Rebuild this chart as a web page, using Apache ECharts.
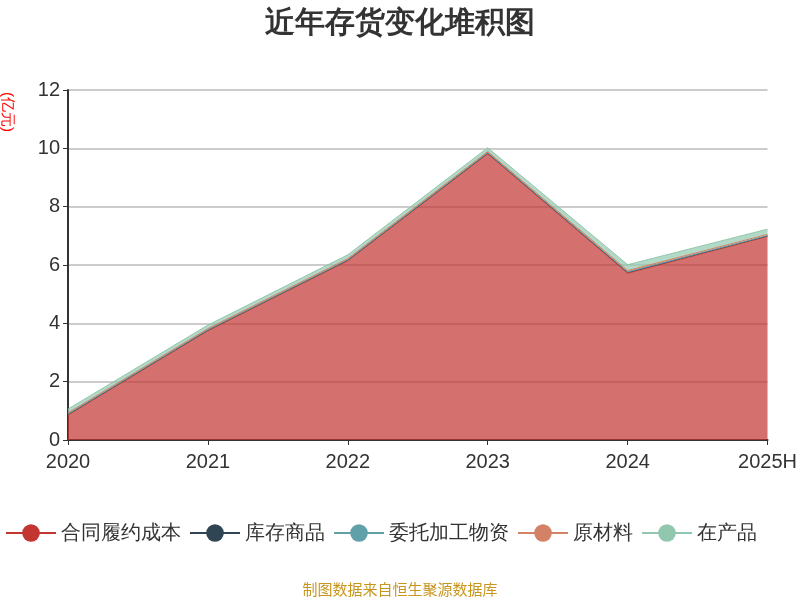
<!DOCTYPE html>
<html>
<head>
<meta charset="utf-8">
<script src="https://cdn.jsdelivr.net/npm/echarts@6/dist/echarts.min.js"></script>
<style>html,body{margin:0;padding:0;background:#fff}#main{width:800px;height:600px}</style>
</head>
<body>
<div id="main"></div>
<script>
// 报告期
const years = ["2020", "2021", "2022", "2023", "2024", "2025H"];
// 各类存货 (亿元)
const contractCost = [0.86, 3.75, 6.15, 9.82, 5.72, 6.98];
const goods = [0.02, 0.02, 0.02, 0.02, 0.03, 0.02];
const consigned = [0.01, 0.01, 0.01, 0.01, 0.01, 0.01];
const rawMaterial = [0.04, 0.04, 0.04, 0.04, 0.05, 0.04];
const inProcess = [0.13, 0.12, 0.13, 0.13, 0.2, 0.18];

const names = ["合同履约成本", "库存商品", "委托加工物资", "原材料", "在产品"];
const values = [contractCost, goods, consigned, rawMaterial, inProcess];
const colors = ["#c23531", "#2f4554", "#61a0a8", "#d48265", "#91c7ae"];

const chart = echarts.init(document.getElementById("main"));
chart.setOption({
  color: colors,
  title: {
    text: "近年存货变化堆积图",
    left: "center",
    top: 4,
    textStyle: { fontSize: 30, fontWeight: "bold", color: "#333" }
  },
  graphic: [{
    type: "text",
    left: 0,
    top: 92,
    rotation: -Math.PI / 2,
    style: { text: "(亿元)", fill: "#ff0000", font: "15px sans-serif" }
  }],
  legend: {
    type: "scroll",
    bottom: 52,
    left: 0,
    right: 0,
    itemWidth: 50,
    itemHeight: 22,
    textStyle: { fontSize: 20, color: "#333" },
    pageTextStyle: { fontSize: 20, color: "#333" },
    pageIconSize: 20,
    data: names
  },
  grid: { left: 68, right: 32, top: 90, bottom: 160 },
  xAxis: {
    type: "category",
    boundaryGap: false,
    data: years,
    axisLine: { lineStyle: { color: "#333", width: 2 } },
    axisTick: { lineStyle: { color: "#333" } },
    axisLabel: { fontSize: 20, color: "#333", margin: 12 }
  },
  yAxis: {
    type: "value",
    min: 0,
    max: 12,
    interval: 2,
    axisLine: { show: true, lineStyle: { color: "#333", width: 2 } },
    axisTick: { show: true, lineStyle: { color: "#333" } },
    axisLabel: { fontSize: 20, color: "#333" },
    splitLine: { lineStyle: { color: "#ccc", width: 2 } }
  },
  series: names.map((n, i) => ({
    name: n,
    type: "line",
    stack: "total",
    data: values[i],
    symbol: "circle",
    symbolSize: 0.1,
    showSymbol: false,
    lineStyle: { width: 1 },
    areaStyle: { opacity: 0.7 },
    z: 3
  }))
});
</script>
<div style="position:absolute;left:0;top:578px;width:800px;text-align:center;font:15px 'Noto Sans CJK SC',sans-serif;color:#c8961e">制图数据来自恒生聚源数据库</div>
</body>
</html>
